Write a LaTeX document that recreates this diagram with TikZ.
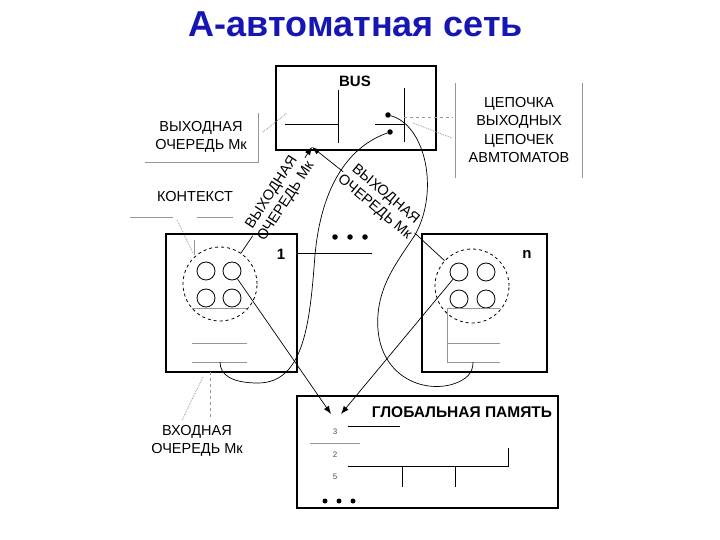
\documentclass[tikz,border=0pt]{standalone}
\usepackage{fontspec}
\setmainfont{Liberation Sans}
\usetikzlibrary{arrows.meta}
\definecolor{titleblue}{RGB}{22,22,180}
\definecolor{helper}{RGB}{150,150,150}
\begin{document}
\begin{tikzpicture}[x=1pt,y=-1pt,
  boxst/.style={draw=black,line width=1.1pt,inner sep=0pt},
  dashcirc/.style={circle,draw=black,dashed,line width=0.8pt,minimum size=74pt,inner sep=0pt},
  cell/.style={circle,draw=black,line width=0.8pt,minimum size=18pt,inner sep=0pt},
  lbl/.style={font=\fontsize{14.5}{18.5}\selectfont,align=center,inner sep=1pt},
  bold/.style={font=\fontsize{15}{18}\selectfont\bfseries,inner sep=0pt},
  thinl/.style={draw=black,line width=0.7pt},
  helperl/.style={draw=helper,line width=0.7pt},
  helperdot/.style={draw=helper,line width=0.8pt,densely dotted},
  arr/.style={draw=black,line width=0.7pt,-{Latex[length=8pt,width=6pt]}},
  blob/.style={circle,fill=black,inner sep=0pt,minimum size=5.5pt}
]
\useasboundingbox (0,0) rectangle (720,540);
% title
\node[font=\fontsize{36}{40}\selectfont\bfseries,text=titleblue] (title) at (356,24) {А-автоматная сеть};

% BUS box
\node[boxst,minimum width=160pt,minimum height=84pt] (bus) at (356,108) {};
\node[bold] (bustxt) at (355,81) {BUS};
\coordinate (busv1t) at (338,90); \coordinate (busv1b) at (338,143);
\coordinate (bush1l) at (285,124);
\draw[thinl] (busv1t) -- (busv1b);
\draw[thinl] (bush1l) -- (338,124);
\coordinate (busv2t) at (404,88); \coordinate (busv2b) at (404,142);
\draw[thinl] (busv2t) -- (busv2b);
\draw[thinl] (375,124) -- (404,124);
\node[blob] (dot1) at (388,115) {};
\node[blob] (dot2) at (390,132) {};
\coordinate (busin) at (312,147);

% right label
\node[lbl] (chain) at (519,130) {ЦЕПОЧКА\\ВЫХОДНЫХ\\ЦЕПОЧЕК\\АВМТОМАТОВ};
\draw[helperl] (455,83) -- (455,178);
\draw[helperl] (582,83) -- (582,178);
\coordinate (ch1) at (453,117);
\coordinate (ch2) at (452,138);
\draw[helperl,dashed] (404,117) -- (ch1);
\draw[helperdot] (413,123) -- (ch2);

% left output queue label
\node[lbl] (outq) at (201,137) {ВЫХОДНАЯ\\ОЧЕРЕДЬ Мк};
\draw[helperl] (258,113) -- (258,162) -- (145,162);
\coordinate (oq1) at (263,132);
\coordinate (oq2) at (287,113);
\draw[helperdot] (oq1) -- (oq2);

% context label
\node[lbl] (ctx) at (195,197) {КОНТЕКСТ};
\draw[helperl] (130,217) -- (173,217);
\draw[helperl] (197,217) -- (233,217);
\coordinate (ctxa) at (177,220);
\coordinate (ctxb) at (193,253);
\draw[helperdot] (ctxa) -- (ctxb);

% box 1
\node[boxst,minimum width=131pt,minimum height=138pt] (box1) at (231.5,303) {};
\node[bold] (one) at (281,254) {1};
\draw[thinl] (297,253) -- (372,253);
\node[dashcirc] (c1) at (220,284) {};
\node[cell] (c1a) at (206,271) {};
\node[cell] (c1b) at (232,271) {};
\node[cell] (c1c) at (206,298) {};
\node[cell] (c1d) at (232,298) {};
\draw[helperl] (194,240) -- (194,255);
\draw[helperl] (192,308) -- (247,308);
\draw[helperl] (192,343) -- (247,343);
\draw[helperl] (192,362) -- (247,362);
\coordinate (q1end) at (220,362);

% dots between boxes
\node[blob] (d1) at (335,237) {};
\node[blob] (d2) at (350,237) {};
\node[blob] (d3) at (365,237) {};

% box n
\node[boxst,minimum width=125pt,minimum height=138pt] (boxn) at (484.5,303) {};
\node[bold] (nn) at (527,254) {n};
\node[dashcirc] (cn) at (472,286) {};
\node[cell] (cna) at (459,272) {};
\node[cell] (cnb) at (486,272) {};
\node[cell] (cnc) at (459,299) {};
\node[cell] (cnd) at (486,299) {};
\draw[helperl] (447,308) -- (500,308);
\draw[helperl] (447,308) -- (447,362);
\draw[helperl] (447,343) -- (500,343);
\draw[helperl] (447,362) -- (500,362);
\coordinate (qnend) at (473,362);

% rotated output-queue labels
\node[lbl,rotate=57,font=\fontsize{14.5}{17}\selectfont] (lbl1) at (279,197) {ВЫХОДНАЯ\\ОЧЕРЕДЬ Мк};
\node[lbl,rotate=-40,font=\fontsize{14.5}{17}\selectfont] (lbl2) at (380,201) {ВЫХОДНАЯ\\ОЧЕРЕДЬ Мк};
\draw[thinl] (c1) -- (lbl1);
\draw[arr] (lbl1) -- (busin);
\draw[thinl] (cn) -- (lbl2);
\draw[arr] (lbl2) -- (busin);

% curves from bus to input queues
\draw[thinl] (dot2) .. controls (340,150) and (320,200) .. (315,255)
  .. controls (310,320) and (305,383) .. (258,383)
  .. controls (232,383) and (220,375) .. (q1end);
\draw[thinl] (dot1) .. controls (425,125) and (440,190) .. (415,235)
  .. controls (395,265) and (375,290) .. (378,330)
  .. controls (382,375) and (420,392) .. (450,385)
  .. controls (468,380) and (473,372) .. (qnend);

% global memory
\node[boxst,minimum width=261pt,minimum height=112pt] (mem) at (427.5,452) {};
\node[bold,font=\fontsize{15.5}{18}\selectfont\bfseries] (memtxt) at (462,412) {ГЛОБАЛЬНАЯ ПАМЯТЬ};
\coordinate (m1) at (331,414);
\coordinate (m2) at (341,414);
\draw[arr] (c1b) -- (m1);
\draw[arr] (cna) -- (m2);
\node[font=\fontsize{8}{9}\selectfont,text=black!70] (n3) at (335,432) {3};
\node[font=\fontsize{8}{9}\selectfont,text=black!70] (n2) at (335,455) {2};
\node[font=\fontsize{8}{9}\selectfont,text=black!70] (n5) at (335,477) {5};
\draw[thinl] (348,426) -- (400,426);
\draw[helperl] (310,443) -- (360,443);
\draw[thinl] (348,466) -- (508,466) -- (508,448);
\draw[thinl] (402,466) -- (402,487);
\draw[thinl] (455,466) -- (455,487);
\node[blob,minimum size=5pt] (e1) at (325,501) {};
\node[blob,minimum size=5pt] (e2) at (339,501) {};
\node[blob,minimum size=5pt] (e3) at (353,501) {};

% input queue label
\node[lbl] (inq) at (197,441) {ВХОДНАЯ\\ОЧЕРЕДЬ Мк};
\coordinate (iqa) at (203,377);
\coordinate (iqb) at (182,420);
\draw[helperdot] (iqa) -- (iqb);
\draw[helperl,dashed] (210,372) -- (210,420);
\end{tikzpicture}
\end{document}
